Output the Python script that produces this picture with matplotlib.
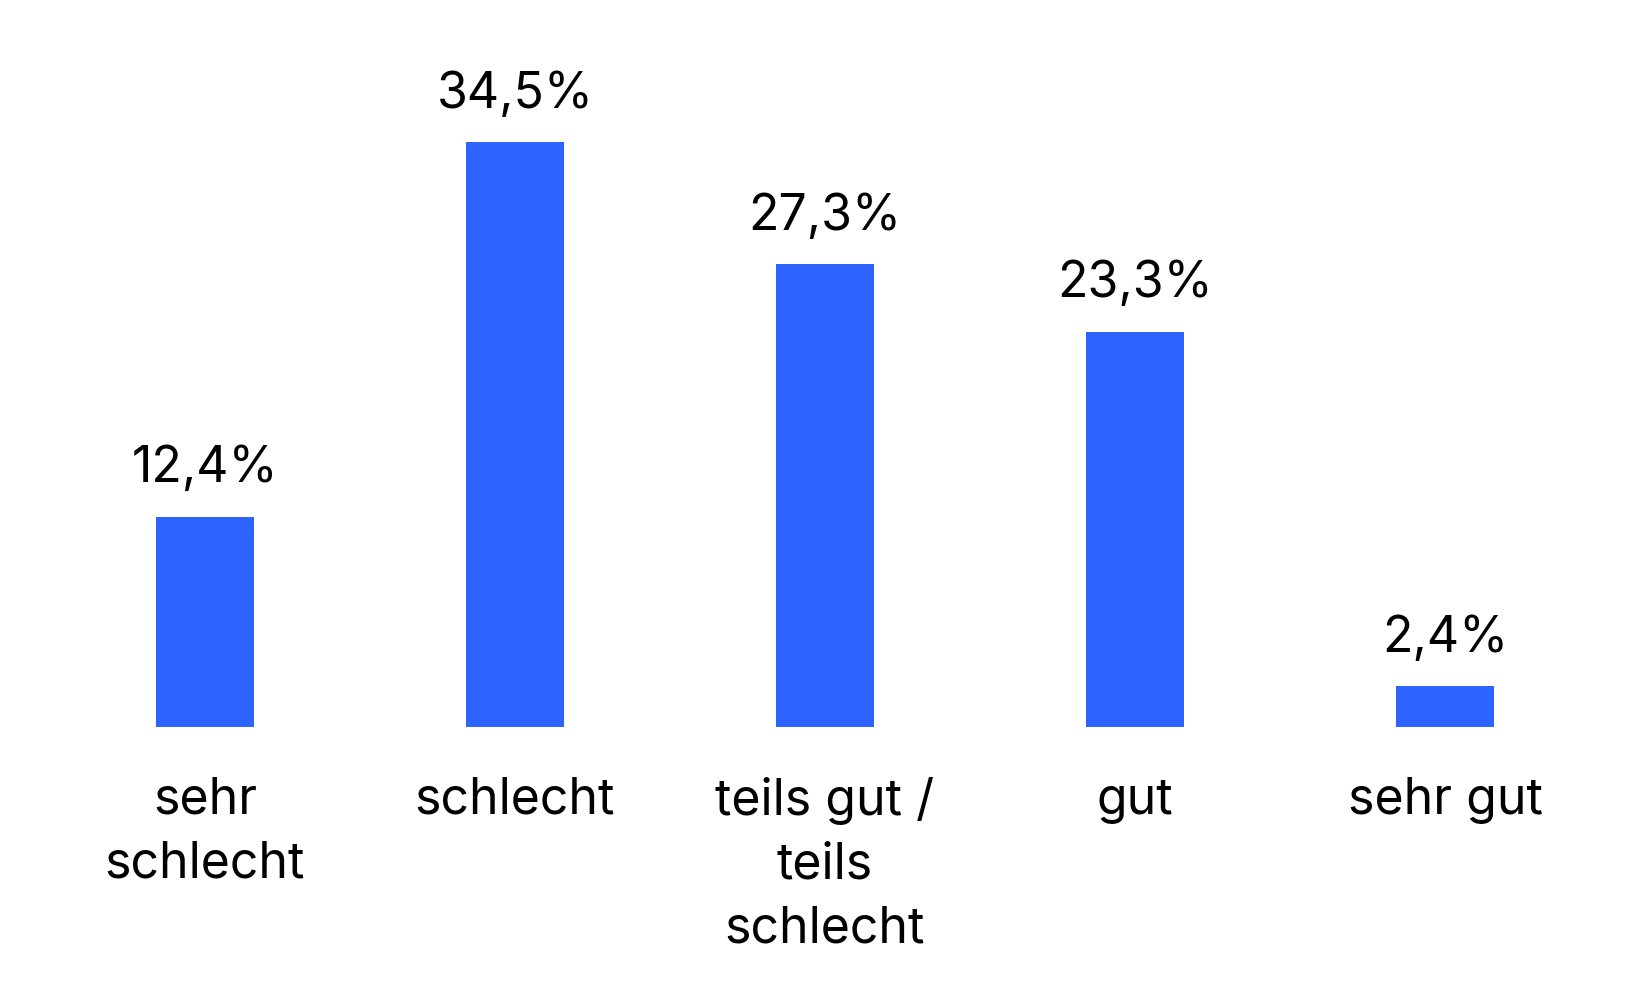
import matplotlib
matplotlib.use("Agg")
import matplotlib.pyplot as plt

# ── data ──────────────────────────────────────────────────────────────────────
categories = ["sehr\nschlecht", "schlecht", "teils gut /\nteils\nschlecht", "gut", "sehr gut"]
values = [12.4, 34.5, 27.3, 23.3, 2.4]
value_labels = ["12,4%", "34,5%", "27,3%", "23,3%", "2,4%"]

BAR_COLOUR = "#2D63FF"
plt.rcParams["font.family"] = ["Inter", "DejaVu Sans"]

# layout in pixels (figure 1650 x 990)
BOTTOM_PX = 727      # bar baseline from top
FIRST_PX = 205       # centre of first bar
STEP_PX = 310        # distance between bar centres
PX_PER_PCT = 16.95

fig = plt.figure(figsize=(16.5, 9.9), dpi=100)
ax = fig.add_axes([0, (990 - BOTTOM_PX) / 990, 1, BOTTOM_PX / 990])

x = list(range(len(categories)))
bars = ax.bar(x, values, width=0.313, color=BAR_COLOUR)

for rect, lab in zip(bars, value_labels):
    ax.annotate(lab, (rect.get_x() + rect.get_width() / 2, rect.get_height()),
                xytext=(0, 25), textcoords="offset points",
                ha="center", va="baseline", fontsize=36, color="black")

ax.set_xlim(-FIRST_PX / STEP_PX, (1650 - FIRST_PX) / STEP_PX)
ax.set_ylim(0, BOTTOM_PX / PX_PER_PCT)
ax.set_xticks(x)
ax.set_xticklabels(categories, fontsize=36, linespacing=1.45)
ax.tick_params(axis="x", length=0, pad=36)
ax.set_yticks([])
for s in ax.spines.values():
    s.set_visible(False)

fig.savefig("out.png", dpi=100)
